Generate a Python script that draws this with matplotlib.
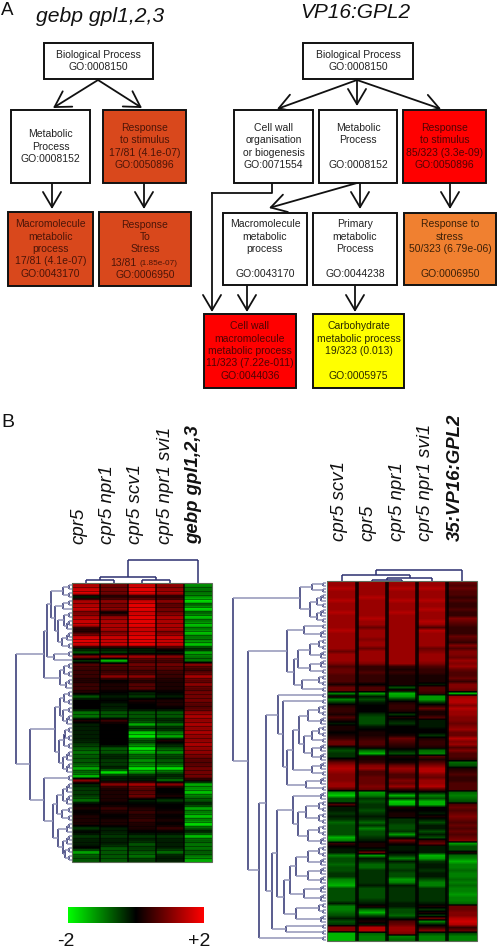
#!/usr/bin/env python3

import numpy as np
import matplotlib
matplotlib.use("Agg")
import matplotlib.pyplot as plt
from matplotlib.colors import LinearSegmentedColormap
from matplotlib.patches import Rectangle

plt.rcParams["font.family"] = ["Liberation Sans", "DejaVu Sans"]

# expression, -9 (full green, -2) to +9 (full red, +2)
labels_left = ["cpr5", "cpr5 npr1", "cpr5 scv1", "cpr5 npr1 svi1", "gebp gpl1,2,3"]
labels_right = ["cpr5 scv1", "cpr5", "cpr5 npr1", "cpr5 npr1 svi1", "35:VP16:GPL2"]

heat_left = [
    [6, 4, 7, 5, -5], [7, 4, 8, 5, -4], [8, 4, 8, 6, -4], [-2, 1, 1, 1, -5], [6, 5, 7, 5, -8],
    [6, 4, 8, 3, -3], [7, 5, 8, 4, -8], [4, 0, 7, 4, -3], [6, 5, 8, 6, -7], [7, 6, 8, 6, -4],
    [7, 6, 8, 6, -7], [1, 6, 7, 6, -4], [2, 4, 7, 4, -7], [7, 7, 8, 7, -4], [8, 7, 8, 7, -5],
    [7, 7, 8, 7, -7], [-1, -1, -1, 1, -1], [-3, -2, -1, -1, -6], [5, 6, 6, 5, -4], [-2, -7, 2, 2, -4],
    [3, 3, 4, 4, 5], [2, 2, 3, 3, 2], [2, 2, 2, 2, 3], [2, 5, 5, 2, 6], [1, 0, 1, 1, 3],
    [2, 1, 3, 1, 5], [2, 1, 3, 1, 3], [1, 0, -1, 0, 4], [-3, -1, -2, -1, 4], [0, 0, 1, 1, 4],
    [0, -1, 0, 1, 3], [0, -1, 0, 0, 3], [-4, -3, -3, -3, 5], [-4, -3, -3, -3, 6], [1, 2, -2, -1, 5],
    [-1, 0, -6, -4, 6], [-1, 0, -1, -1, 5], [-1, 0, -7, -4, 6], [-1, 0, -8, -6, 5], [-1, 0, -2, 1, 5],
    [-2, 0, -4, -1, 6], [-3, -3, -8, -3, 5], [-4, -3, -6, -5, 5], [-3, -1, -3, -2, 4], [-3, -2, -5, -3, 3],
    [-3, -2, -4, -3, 3], [-6, -1, -8, -8, 4], [-3, -8, -5, -3, 4], [-7, -1, -1, -1, 4], [5, -1, -1, -4, 1],
    [-1, 5, 6, 5, -6], [-2, 1, 3, 0, -5], [-2, 1, 3, 0, -7], [-2, 1, 4, 1, -4], [-4, 1, -1, -2, -3],
    [0, 0, 0, 0, -1], [1, 2, 1, 0, -6], [0, 1, 2, 1, -4], [1, 0, 1, 0, -7], [1, 1, 2, 1, -4],
    [1, 1, 1, 0, -8], [-2, -1, 1, 2, -3], [0, -1, 0, 0, -1], [-2, -2, -2, -2, -7], [-1, -1, -1, -1, -3],
    [-1, -1, -3, -1, -4], [0, -3, -2, -1, -4], [-6, -3, -3, -4, -3], [-3, -3, -4, -1, -4], [-3, -3, -2, -1, -6],
]

heat_right = [
    [6, 6, 6, 6, 4], [6, 6, 6, 6, 3], [7, 6, 7, 7, 4], [6, 6, 6, 6, 3], [6, 6, 6, 6, 3],
    [6, 7, 6, 6, 2], [7, 6, 7, 7, 3], [6, 6, 6, 6, 2], [6, 6, 6, 6, 2], [6, 6, 6, 7, 3],
    [7, 6, 7, 6, 2], [6, 6, 6, 6, 2], [6, 7, 6, 6, 5], [6, 6, 6, 7, 4], [6, 6, 6, 6, 3],
    [6, 4, 6, 3, 2], [7, 6, 6, 7, 2], [6, 6, 6, 6, 2], [6, 6, 6, 6, 4], [6, 5, 6, 6, 3],
    [6, 6, 6, 6, 2], [6, 6, 6, 6, 5], [6, 4, 6, 4, 3], [4, 6, 6, 5, 5], [6, 6, 6, 6, 5],
    [6, 6, 6, 6, 4], [6, 6, 6, 6, 6], [5, 5, 6, 5, 5], [3, 2, 2, 3, 6], [4, 2, 1, 2, 4],
    [4, 3, 2, 2, 3], [3, 2, 1, 1, 3], [3, 2, 1, 1, 4], [3, 2, 1, 1, 2], [1, 0, 1, -1, 5],
    [4, 3, -3, 3, 5], [4, 3, 1, 3, 4], [-5, -6, -7, 2, -7], [1, -1, -6, -6, 6], [-5, -3, -2, -6, 7],
    [-2, -1, 1, -2, 7], [1, 0, 2, 1, 5], [2, 0, 2, 4, 7], [2, 0, 1, 1, 6], [1, -2, -2, 1, 6],
    [3, -3, 1, 3, 5], [1, -3, -1, -1, 5], [-1, -3, -2, -1, 4], [1, -1, 0, -1, 5], [1, 0, 0, 0, 6],
    [0, 1, 0, 0, 4], [1, 1, 1, -2, 4], [2, 2, 4, 1, 7], [4, 3, 3, 2, 5], [4, 3, 2, 2, 6],
    [-1, 1, 1, 1, 3], [-3, -4, -1, -4, 5], [-2, -7, -3, -5, 3], [-2, 1, 1, 3, 3], [1, 1, 0, 1, 2],
    [4, 2, 1, 3, -4], [6, 5, 4, 5, -3], [7, 6, 6, 7, 1], [6, 3, 5, 7, 2], [5, 3, 3, 5, 3],
    [5, 4, 3, 4, 2], [5, 4, 5, 6, 2], [6, 4, 4, 6, 3], [6, 5, 6, 7, 3], [3, 4, 2, 3, 3],
    [-6, -6, -1, -1, -4], [-8, -5, -7, -5, -5], [-3, -2, -2, -3, -4], [-3, -3, -8, -7, -3], [3, -2, -7, -7, 3],
    [-1, -2, 1, 0, 4], [-1, -3, 0, 0, 3], [-2, -2, 1, -1, 4], [-1, -1, 1, 1, 5], [-2, -2, -2, -1, 4],
    [-4, -4, -2, -3, 3], [-3, -2, -3, -1, 4], [-3, -5, -3, -1, 3], [-3, -3, -2, -3, 4], [-3, -3, -6, -1, 3],
    [-7, -2, -1, -3, 4], [-5, -1, 4, 2, 5], [2, 1, 1, 4, -6], [0, 1, -1, -1, -3], [-1, -1, -1, -1, -3],
    [-1, 4, 0, -1, 1], [-5, -6, -2, -7, -4], [-3, -1, -5, -6, -5], [-3, -2, -1, -2, -7], [-4, -4, -3, -1, -5],
    [-3, -4, -3, -1, -5], [-3, -2, -2, -2, -4], [-2, -2, -3, -1, -5], [-2, -2, -3, -1, -5], [-5, -2, -6, -3, -4],
    [-6, -2, -5, -5, -5], [-7, -1, -1, -5, -4], [-3, -3, -2, -2, -5], [-3, -3, -2, -2, -5], [-3, -3, -2, -2, -6],
    [-3, -3, -2, -2, -5], [-3, -2, -2, -2, -5], [-1, -1, -1, -1, -4], [-5, 1, -1, 1, 4], [-5, -4, -3, -2, 4],
    [-4, -7, -3, 1, 5], [-3, -3, -4, -2, 5], [-1, 0, -1, 4, 7], [-3, 1, 3, -5, 8], [-2, -1, 4, -1, 7],
    [5, 7, 6, 2, 2], [5, 7, 6, 5, 4], [-7, -4, 5, -3, -3], [-7, -5, -5, -5, -5], [-7, -5, -4, -5, -5],
]

# clustering trees: [distance, child, child], 0 is one row or column
p2 = [3, 0, 0]
p3 = [5, p2, 0]
p4 = [7, p2, p2]

left_top = [22.6, [5.5, [3, 0, 0], [3, 0, 0]], 0]
right_top = [11, [6, 0, [3.5, [1.5, 0, 0], 0]], 0]

left_side = [56,
    [28,
        [25,
            [21, [9, p2, p2], [17, [9, p2, 0], [14, [8, p2, p3], [10, p3, p2]]]],
            [18, p2, 0]],
        [12, [8, p2, p2], [6, p2, 0]]],
    [42,
        [17, [12, [8, p2, p2], [9, p2, p3]], [13, [8, p4, p2], [9, p3, p3]]],
        [28, p2,
            [19, [15, [9, p3, p3], [10, p2, p2]], [14, p3, [9, p3, p4]]]]]]

right_side = [93,
    [26, [14, p2, p2], [16, [9, p3, p2], [9, p3, p2]]],
    [78,
        [39, [22, p2, p3], [32, [28, [16, p4, p3], [16, p3, p2]], [24, p4, p2]]],
        [67,
            [60,
                [48, p2, [43, p2, [39, [33, [27, [18, p4, p3], [22, [14, p4, p2], [14, p3, p3]]],
                                        [14, p3, p2]], [20, p3, p2]]]],
                [54,
                    [49,
                        [33, p3, [28, [20, p4, p4], [18, p4, p3]]],
                        [42, [36, [30, [18, p4, p3], [18, p3, p3]], [22, p3, p3]], [30, p4, p3]]],
                    [40, p2, p2]]],
            p2]]]

cmap = LinearSegmentedColormap.from_list("gbr", ["#00ff00", "#000000", "#ff0000"])

fig = plt.figure(figsize=(4.98, 9.52), dpi=100)
ax = fig.add_axes([0, 0, 1, 1])

navy = "#2c3070"
pale = "#9295b8"


def draw_tree(node, leaves, base, side):
    if node == 0:
        return next(leaves), 0
    kids = [draw_tree(k, leaves, base, side) for k in node[1:]]
    h = node[0]
    pos = [k[0] for k in kids]
    if side:
        ax.plot([base - h, base - h], [min(pos), max(pos)], color=navy, lw=1.1, solid_capstyle="butt")
        for p, kh in kids:
            ax.plot([base - h, base - kh], [p, p], color=pale, lw=1.1, solid_capstyle="butt")
    else:
        ax.plot([min(pos), max(pos)], [base - h, base - h], color=navy, lw=1.1, solid_capstyle="butt")
        for p, kh in kids:
            ax.plot([p, p], [base - h, base - kh], color=navy, lw=1.1, solid_capstyle="butt")
    return sum(pos) / len(pos), h


def draw_heat(rows, x0, x1, y0, y1, gap, row_lines, vmax):
    vals = np.array(rows)
    nrow, ncol = vals.shape
    w = (x1 - x0) / ncol
    for i in range(ncol):
        ax.imshow(vals[:, [i]], cmap=cmap, vmin=-vmax, vmax=vmax, aspect="auto", interpolation="bilinear",
                  extent=(x0 + i * w, x0 + (i + 1) * w, y1, y0), zorder=2)
    for i in range(1, ncol):
        ax.plot([x0 + i * w] * 2, [y0, y1], color="black", lw=gap, alpha=0.85, zorder=3, solid_capstyle="butt")
    if row_lines:
        for r in range(1, nrow):
            yy = y0 + r * (y1 - y0) / nrow
            ax.plot([x0, x1], [yy, yy], color="black", lw=0.5, alpha=0.55, zorder=3, solid_capstyle="butt")
    ax.add_patch(Rectangle((x0, y0), x1 - x0, y1 - y0, fill=False, ec="#5d6b58", lw=0.8, zorder=4))
    rh = (y1 - y0) / nrow
    return (y0 + (r + 0.5) * rh for r in range(nrow)), (x0 + (c + 0.5) * w for c in range(ncol))


def box(x0, y0, x1, y1, text, fc="white", tc="#222222", size=7.5):
    ax.add_patch(Rectangle((x0, y0), x1 - x0, y1 - y0, fc=fc, ec="#111111", lw=1.4, zorder=2))
    if text:
        ax.text((x0 + x1) / 2, (y0 + y1) / 2, text, ha="center", va="center", color=tc,
                fontsize=size, linespacing=1.3, zorder=3)


def arrow(points):
    xs = [p[0] for p in points]
    ys = [p[1] for p in points]
    if len(points) > 2:
        ax.plot(xs[:-1], ys[:-1], color="#111111", lw=1.3, zorder=1)
    ax.annotate("", xy=points[-1], xytext=points[-2], zorder=1,
                arrowprops=dict(arrowstyle="->,head_length=1.1,head_width=0.65", mutation_scale=10,
                                lw=1.3, color="#111111", shrinkA=0, shrinkB=0))


orange = "#d9481c"
orange2 = "#f08030"
red = "#ff0000"
yellow = "#ffff00"
on_orange = "#4c1508"
on_red = "#500404"

# panel A, left tree
for pts in [[(98, 80), (53, 108)], [(98, 80), (142, 108)], [(52, 183), (52, 209)], [(144, 183), (144, 209)]]:
    arrow(pts)
box(44, 43, 153, 79, "Biological Process\nGO:0008150")
box(11, 110, 90, 183, "Metabolic\nProcess\nGO:0008152")
box(103, 110, 186, 183, "Response\nto stimulus\n17/81 (4.1e-07)\nGO:0050896", orange, on_orange)
box(8, 212, 93, 286, "Macromolecule\nmetabolic\nprocess\n17/81 (4.1e-07)\nGO:0043170", orange, on_orange)
box(99, 212, 191, 286, "", orange, on_orange)
ax.text(145, 237, "Response\nTo\nStress", fontsize=7.5, color=on_orange, ha="center", va="center",
        linespacing=1.3, zorder=3)
ax.text(110, 263, "13/81", fontsize=7.5, color=on_orange, va="center", ha="left", zorder=3)
ax.text(140, 263.5, "(1.85e-07)", fontsize=5.9, color=on_orange, va="center", ha="left", zorder=3)
ax.text(145, 275, "GO:0006950", fontsize=7.5, color=on_orange, ha="center", va="center", zorder=3)

# panel A, right tree
for pts in [[(357, 80), (277, 109)], [(357, 80), (357, 106)], [(357, 80), (441, 109)],
            [(357, 183), (269, 208)], [(360, 183), (360, 209)], [(450, 183), (450, 209)],
            [(272, 183), (272, 193), (212, 193), (212, 312)],
            [(247, 285), (247, 312)], [(355, 285), (355, 312)]]:
    arrow(pts)
box(303, 43, 413, 79, "Biological Process\nGO:0008150")
box(234, 110, 313, 183, "Cell wall\norganisation\nor biogenesis\nGO:0071554")
box(319, 110, 397, 183, "Metabolic\nProcess\n\nGO:0008152")
box(403, 110, 486, 183, "Response\nto stimulus\n85/323 (3.3e-09)\nGO:0050896", red, on_red)
box(223, 213, 307, 285, "Macromolecule\nmetabolic\nprocess\n\nGO:0043170")
box(313, 213, 397, 285, "Primary\nmetabolic\nProcess\n\nGO:0044238")
box(404, 213, 496, 285, "Response to\nstress\n50/323 (6.79e-06)\n\nGO:0006950", orange2, "#3c2008")
box(204, 314, 296, 388, "Cell wall\nmacromolecule\nmetabolic process\n11/323 (7.22e-011)\nGO:0044036", red, on_red)
box(313, 314, 404, 388, "Carbohydrate\nmetabolic process\n19/323 (0.013)\n\nGO:0005975", yellow, "#2a2a00")

ax.text(1, 15, "A", fontsize=13.5, color="#111111")
ax.text(1, 427, "B", fontsize=14, color="#111111")
ax.text(100, 22, "gebp gpl1,2,3", fontsize=15.2, style="italic", ha="center", color="#111111")
ax.text(355, 18, "VP16:GPL2", fontsize=15, style="italic", ha="center", color="#111111")

# panel B
rows_l, cols_l = draw_heat(heat_left, 72, 212, 582.7, 861.7, 1.1, True, 9)
draw_tree(left_side, rows_l, 71.5, True)
draw_tree(left_top, cols_l, 582.5, False)
rows_r, cols_r = draw_heat(heat_right, 327, 477, 581, 941, 2.6, False, 10)
draw_tree(right_side, rows_r, 326, True)
draw_tree(right_top, cols_r, 581, False)

for name, xp in zip(labels_left, [79, 107, 136, 166, 194]):
    bold = name == labels_left[-1]
    ax.text(xp, 544, name, rotation=90, ha="center", va="bottom", fontsize=13.4, style="italic",
            weight="bold" if bold else "normal", color="#111111")
for name, xp in zip(labels_right, [340, 368, 397, 425, 455]):
    bold = name == labels_right[-1]
    ax.text(xp, 541, name, rotation=90, ha="center", va="bottom", fontsize=13.4, style="italic",
            weight="bold" if bold else "normal", color="#111111")

# colour key
ax.imshow(np.linspace(-2, 2, 256).reshape(1, -1), cmap=cmap, vmin=-2, vmax=2, aspect="auto",
          extent=(67.5, 203, 923, 907), zorder=2)
ax.text(66, 942, "-2", fontsize=14, ha="center", va="center", color="#111111")
ax.text(199, 942, "+2", fontsize=14, ha="center", va="center", color="#111111")

ax.set_xlim(0, 498)
ax.set_ylim(952, 0)
ax.axis("off")

fig.savefig("out.png", dpi=100)
